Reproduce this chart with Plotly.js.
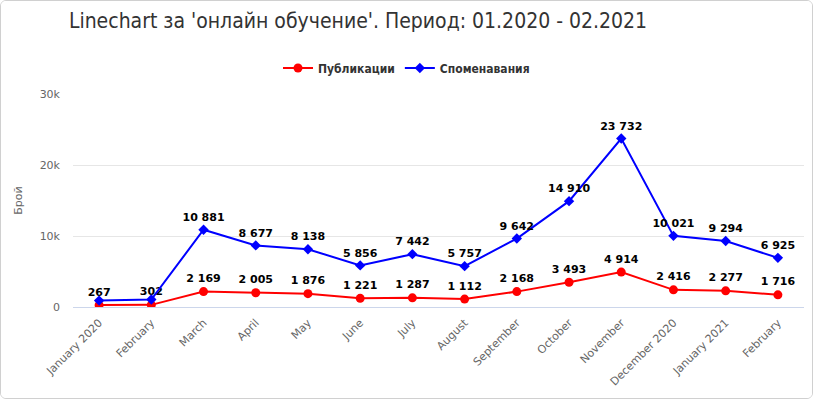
<!DOCTYPE html>
<html><head><meta charset="utf-8">
<script src="https://cdn.plot.ly/plotly-3.0.1.min.js"></script>
<style>
html,body{margin:0;padding:0;background:#fff;}
#wrap{width:813px;height:399px;box-sizing:border-box;border:1px solid #d0d0d0;border-radius:6px;overflow:hidden;}
#chart{width:811px;height:397px;}
</style></head><body>
<div id="wrap"><div id="chart"></div></div>
<script>
const categories = ['January 2020','February','March','April','May','June','July','August','September','October','November','December 2020','January 2021','February'];
const publications = [267, 302, 2169, 2005, 1876, 1221, 1287, 1112, 2168, 3493, 4914, 2416, 2277, 1716];
const mentions = [900, 1050, 10881, 8677, 8138, 5856, 7442, 5757, 9642, 14910, 23732, 10021, 9294, 6925];
const mentionsLabelHidden = [true, true, false, false, false, false, false, false, false, false, false, false, false, false];
const yTicks = [0, 10000, 20000, 30000];
const yTickText = ['0', '10k', '20k', '30k'];

function fmt(v){ return String(v).replace(/\B(?=(\d{3})+(?!\d))/g, ' '); }
const idx = categories.map((c,i)=>i);

const labelFont = {family:'DejaVu Sans, Verdana, sans-serif', size:11, color:'#000', weight:'bold'};

const traces = [
  {
    x: idx, y: publications, name: 'Публикации', type: 'scatter', mode: 'lines+markers+text',
    line: {color: '#ff0000', width: 2}, marker: {color: '#ff0000', size: 9, symbol: 'circle'},
    text: publications.map(fmt), textposition: 'top center', textfont: labelFont,
    hoverinfo: 'y'
  },
  {
    x: idx, y: mentions, name: 'Споменавания', type: 'scatter', mode: 'lines+markers+text',
    line: {color: '#0000ff', width: 2}, marker: {color: '#0000ff', size: 8, symbol: 'diamond'},
    text: mentions.map((v,i)=> mentionsLabelHidden[i] ? '' : fmt(v)), textposition: 'top center', textfont: labelFont,
    hoverinfo: 'y'
  }
];

const layout = {
  width: 811, height: 397,
  margin: {l: 72, r: 8, t: 93, b: 91},
  paper_bgcolor: '#fff', plot_bgcolor: '#fff',
  title: {text: "Linechart за 'онлайн обучение'. Период: 01.2020 - 02.2021",
    font: {family: 'Liberation Sans Narrow, DejaVu Sans Condensed, sans-serif', size: 21, color: '#333'},
    x: 357/811, xref: 'container', xanchor: 'center', y: 1 - 20/397, yref: 'container', yanchor: 'middle'},
  showlegend: true,
  legend: {orientation: 'h', x: 0.5, xref: 'container', xanchor: 'center', y: 1 - 67/397, yref: 'container', yanchor: 'middle',
    font: {family: 'Liberation Sans Narrow, DejaVu Sans Condensed, sans-serif', size: 12, color: '#333', weight: 'bold'},
    itemwidth: 30, traceorder: 'normal'},
  xaxis: {
    tickmode: 'array', tickvals: idx, ticktext: categories, tickangle: -45,
    range: [-0.5, categories.length - 0.5], showgrid: false, zeroline: false,
    showline: true, linecolor: '#ccd6eb', linewidth: 1, ticks: '',
    tickfont: {family: 'DejaVu Sans, sans-serif', size: 11, color: '#666'}, fixedrange: true,
    ticklabelstandoff: 4
  },
  yaxis: {
    range: [0, 30000], tickmode: 'array', tickvals: yTicks, ticktext: yTickText,
    showgrid: true, gridcolor: '#e6e6e6', zeroline: false, showline: false, ticks: '',
    tickfont: {family: 'DejaVu Sans, sans-serif', size: 11, color: '#666'},
    ticklabelstandoff: 12,
    title: {text: 'Брой', font: {family: 'DejaVu Sans, sans-serif', size: 11, color: '#666'}, standoff: 14},
    fixedrange: true
  }
};

Plotly.newPlot('chart', traces, layout, {displayModeBar: false});
</script>
</body></html>
